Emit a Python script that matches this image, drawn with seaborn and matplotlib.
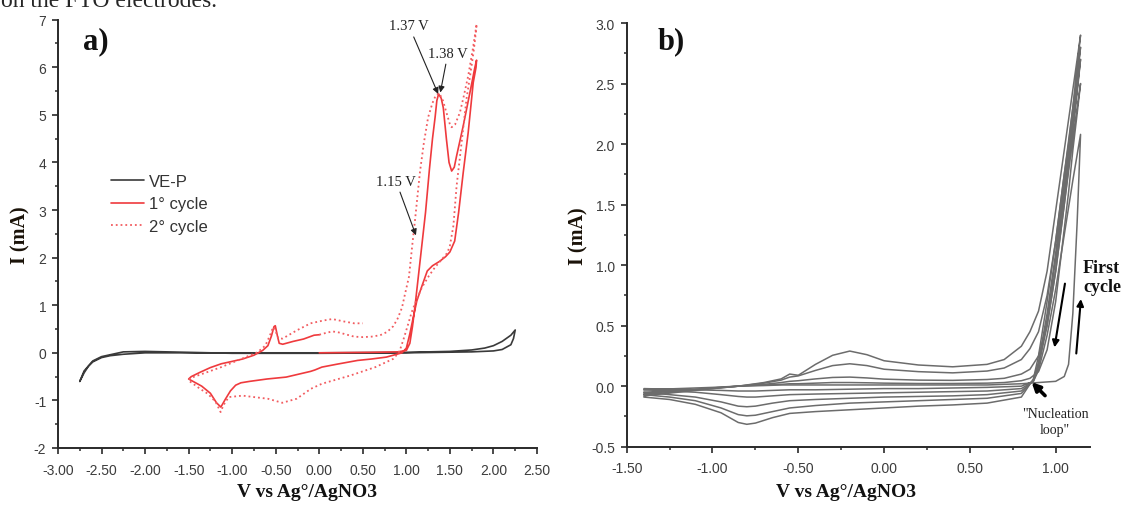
import numpy as np
import pandas as pd
import matplotlib
matplotlib.use("Agg")
import matplotlib.pyplot as plt
import seaborn as sns
from matplotlib.ticker import MultipleLocator, FormatStrFormatter

# ---------------- data: panel a) ----------------
ve_p_v = [-2.75, -2.7, -2.65, -2.6, -2.5, -2.4, -2.25, -2.0, -1.0, 0.0, 1.0, 1.5, 1.75, 1.9, 2.0, 2.1, 2.2, 2.25,
          2.23, 2.2, 2.1, 2.0, 1.75, 1.0, 0.0, -1.0, -2.0, -2.25, -2.5, -2.6, -2.7, -2.75]
ve_p_i = [-0.6, -0.42, -0.28, -0.19, -0.1, -0.06, -0.03, 0.0, 0.0, 0.0, 0.01, 0.03, 0.06, 0.1, 0.15, 0.24, 0.37, 0.48,
          0.3, 0.17, 0.07, 0.04, 0.02, 0.0, -0.01, -0.01, 0.03, 0.02, -0.08, -0.17, -0.38, -0.6]

cycle1_v = [0.0, 0.3, 0.6, 0.9, 1.0, 1.04, 1.07, 1.10, 1.16, 1.22, 1.265, 1.30, 1.33, 1.35, 1.37, 1.40, 1.424, 1.46,
            1.49, 1.52, 1.55, 1.577, 1.653, 1.73, 1.787, 1.806,
            1.80, 1.768, 1.71, 1.653, 1.60, 1.555, 1.50, 1.45, 1.38, 1.30, 1.24, 1.18, 1.12, 1.08, 1.04, 1.0, 0.95,
            0.89, 0.77, 0.6, 0.44, 0.2, 0.03, -0.05, -0.1, -0.38, -0.6, -0.8, -0.9, -0.96, -1.02, -1.08, -1.13,
            -1.18, -1.25, -1.35, -1.45, -1.5,
            -1.47, -1.37, -1.25, -1.125, -1.0, -0.88, -0.75, -0.65, -0.59, -0.55, -0.52, -0.505, -0.48, -0.46,
            -0.42, -0.3, -0.18, -0.06, 0.0]
cycle1_i = [0.0, 0.005, 0.01, 0.02, 0.05, 0.2, 0.55, 0.99, 1.97, 2.95, 3.86, 4.5, 4.95, 5.3, 5.44, 5.35, 5.15, 4.49,
            4.0, 3.82, 3.9, 4.14, 4.77, 5.47, 6.0, 6.15,
            6.0, 5.68, 4.63, 3.79, 2.95, 2.35, 2.12, 2.02, 1.92, 1.83, 1.72, 1.41, 1.09, 0.75, 0.4, 0.1, 0.0,
            -0.03, -0.09, -0.13, -0.16, -0.24, -0.30, -0.36, -0.39, -0.51, -0.55, -0.6, -0.63, -0.68, -0.8, -0.98,
            -1.14, -1.05, -0.85, -0.7, -0.6, -0.55,
            -0.5, -0.41, -0.31, -0.23, -0.18, -0.13, -0.05, 0.05, 0.15, 0.35, 0.55, 0.57, 0.35, 0.2,
            0.18, 0.24, 0.29, 0.37, 0.38]

cycle2_v = [0.0, 0.08, 0.15, 0.22, 0.28, 0.4, 0.5, 0.6, 0.7, 0.78, 0.85, 0.9, 0.95, 0.98, 1.03, 1.07, 1.10, 1.156,
            1.2, 1.25, 1.30, 1.34, 1.38, 1.42, 1.46, 1.50, 1.52, 1.56, 1.615, 1.66, 1.71, 1.76, 1.807,
            1.79, 1.77, 1.73, 1.69, 1.635, 1.577, 1.54, 1.5, 1.47, 1.41, 1.33, 1.26, 1.18, 1.12, 1.06, 1.02, 0.97,
            0.93, 0.91, 0.85, 0.645, 0.36, 0.03, -0.095, -0.26, -0.425, -0.59, -0.75, -0.88, -1.04, -1.1, -1.133,
            -1.19, -1.28, -1.37, -1.475, -1.5,
            -1.48, -1.37, -1.125, -0.95, -0.8, -0.71, -0.62, -0.57, -0.53, -0.5, -0.47, -0.42, -0.26, -0.1, 0.05,
            0.15, 0.28, 0.4, 0.5]
cycle2_i = [0.38, 0.42, 0.45, 0.43, 0.40, 0.34, 0.33, 0.34, 0.37, 0.44, 0.56, 0.72, 0.95, 1.2, 1.6, 2.3, 2.8, 3.8,
            4.4, 4.95, 5.25, 5.42, 5.45, 5.3, 5.05, 4.8, 4.74, 4.8, 5.05, 5.4, 5.82, 6.35, 6.91,
            6.6, 6.3, 5.8, 5.33, 4.43, 3.51, 2.67, 2.25, 2.1, 1.97, 1.8, 1.62, 1.38, 1.13, 0.85, 0.6, 0.3,
            0.08, 0.0, -0.126, -0.30, -0.475, -0.65, -0.755, -0.965, -1.05, -0.965, -0.93, -0.9, -0.93, -1.1, -1.245,
            -1.03, -0.86, -0.755, -0.615, -0.6,
            -0.53, -0.46, -0.3, -0.17, -0.056, 0.01, 0.15, 0.35, 0.54, 0.45, 0.3, 0.3, 0.47, 0.62, 0.68,
            0.71, 0.66, 0.62, 0.62]

# ---------------- data: panel b) ----------------
b_fwd_v = [-1.4, -1.2, -1.0, -0.85, -0.7, -0.6, -0.55, -0.5, -0.4, -0.3, -0.2, -0.1, 0.0, 0.2, 0.4, 0.6, 0.7,
           0.8, 0.85, 0.9, 0.95, 1.0, 1.05, 1.075, 1.1, 1.125, 1.145]
b_rev_v = [1.145, 1.1, 1.05, 1.0, 0.95, 0.9, 0.87, 0.8, 0.6, 0.4, 0.2, 0.0, -0.2, -0.4, -0.55, -0.65, -0.75,
           -0.8, -0.85, -0.95, -1.1, -1.25, -1.4]

b_c1_fwd = [-0.03, -0.02, -0.01, 0.0, 0.005, 0.01, 0.01, 0.01, 0.01, 0.01, 0.01, 0.01, 0.01, 0.01, 0.01, 0.01,
            0.015, 0.02, 0.025, 0.03, 0.035, 0.04, 0.08, 0.18, 0.6, 1.35, 2.08]
b_c2_fwd = [-0.05, -0.035, -0.015, 0.0, 0.01, 0.015, 0.02, 0.02, 0.025, 0.03, 0.03, 0.028, 0.025, 0.022, 0.022,
            0.025, 0.03, 0.045, 0.065, 0.12, 0.3, 0.7, 1.3, 1.6, 1.95, 2.25, 2.5]
b_c3_fwd = [-0.06, -0.04, -0.015, 0.0, 0.015, 0.03, 0.04, 0.045, 0.06, 0.072, 0.075, 0.068, 0.058, 0.05, 0.048,
            0.055, 0.065, 0.1, 0.14, 0.25, 0.5, 0.95, 1.5, 1.8, 2.1, 2.42, 2.7]
b_c4_fwd = [-0.07, -0.045, -0.02, 0.0, 0.025, 0.05, 0.075, 0.085, 0.13, 0.17, 0.185, 0.17, 0.14, 0.12, 0.11,
            0.125, 0.15, 0.22, 0.31, 0.45, 0.75, 1.2, 1.75, 2.0, 2.3, 2.58, 2.8]
b_c5_fwd = [-0.08, -0.05, -0.02, 0.0, 0.03, 0.06, 0.1, 0.09, 0.18, 0.255, 0.29, 0.26, 0.21, 0.175, 0.16, 0.18,
            0.22, 0.33, 0.45, 0.62, 0.95, 1.45, 1.95, 2.2, 2.45, 2.7, 2.9]

b_c1_rev = [2.08, 1.7, 1.25, 0.8, 0.42, 0.13, 0.04, 0.0, -0.01, -0.015, -0.02, -0.02, -0.025, -0.03, -0.03,
            -0.035, -0.04, -0.04, -0.04, -0.035, -0.03, -0.025, -0.02]
b_c2_rev = [2.5, 2.05, 1.5, 0.95, 0.5, 0.16, 0.04, -0.02, -0.04, -0.045, -0.05, -0.055, -0.06, -0.065, -0.07,
            -0.08, -0.09, -0.09, -0.085, -0.07, -0.05, -0.04, -0.03]
b_c3_rev = [2.7, 2.15, 1.6, 1.05, 0.55, 0.18, 0.045, -0.04, -0.07, -0.08, -0.085, -0.09, -0.1, -0.11, -0.12,
            -0.14, -0.165, -0.17, -0.165, -0.13, -0.09, -0.07, -0.05]
b_c4_rev = [2.8, 2.2, 1.65, 1.1, 0.6, 0.2, 0.05, -0.06, -0.1, -0.11, -0.12, -0.13, -0.14, -0.16, -0.18,
            -0.21, -0.24, -0.245, -0.235, -0.18, -0.12, -0.09, -0.07]
b_c5_rev = [2.9, 2.3, 1.75, 1.2, 0.7, 0.25, 0.06, -0.09, -0.14, -0.155, -0.165, -0.18, -0.195, -0.21, -0.225,
            -0.26, -0.305, -0.315, -0.30, -0.22, -0.15, -0.11, -0.09]

# ---------------- style ----------------
sns.set_style("ticks")
plt.rcParams["font.family"] = ["Liberation Sans", "DejaVu Sans"]
plt.rcParams["axes.unicode_minus"] = False
serif = ["Liberation Serif", "DejaVu Serif"]
tick_col = "#3c3c3c"
red = "#ef3a3d"

fig = plt.figure(figsize=(11.26, 5.06), dpi=100)
ax1 = fig.add_axes([58 / 1126, 1 - 449 / 506, 479 / 1126, 428.3 / 506])
ax2 = fig.add_axes([626.7 / 1126, 1 - 447.7 / 506, 463.3 / 1126, 423.7 / 506])

# panel a) curves
sns.lineplot(x=ve_p_v, y=ve_p_i, sort=False, estimator=None, ax=ax1, color="#3a3a3a", lw=1.2, label="VE-P")
sns.lineplot(x=cycle1_v, y=cycle1_i, sort=False, estimator=None, ax=ax1, color=red, lw=1.2, label="1° cycle")
sns.lineplot(x=cycle2_v, y=cycle2_i, sort=False, estimator=None, ax=ax1, color="#f25c60", lw=1.3,
             linestyle=":", label="2° cycle")

# panel b) curves
fwd_sets = [b_c1_fwd, b_c2_fwd, b_c3_fwd, b_c4_fwd, b_c5_fwd]
rev_sets = [b_c1_rev, b_c2_rev, b_c3_rev, b_c4_rev, b_c5_rev]
for fwd, rev in zip(fwd_sets, rev_sets):
    df = pd.DataFrame({"V": b_fwd_v + b_rev_v, "I": fwd + rev})
    sns.lineplot(data=df, x="V", y="I", sort=False, estimator=None, ax=ax2, color="#6c6c6c", lw=1.1)

# axes formatting
for ax in (ax1, ax2):
    sns.despine(ax=ax)
    for s in ("left", "bottom"):
        ax.spines[s].set_color("#2a2a2a")
        ax.spines[s].set_linewidth(1.4)
    ax.tick_params(which="major", direction="out", length=4.5, width=1.2, color="#2a2a2a",
                   labelcolor=tick_col, labelsize=10, pad=4)
    ax.tick_params(axis="x", which="major", pad=6)
    ax.tick_params(which="minor", direction="out", length=2.5, width=1.1, color="#2a2a2a")
    ax.set_xlabel("V vs Ag°/AgNO3", family=serif, fontweight="bold", fontsize=14, color="#111111")
    ax.set_ylabel("I (mA)", family=serif, fontweight="bold", fontsize=14.5, color="#1a1208")

ax1.set_xlim(-3.0, 2.5)
ax1.set_ylim(-2, 7)
ax1.xaxis.set_major_locator(MultipleLocator(0.5))
ax1.xaxis.set_minor_locator(MultipleLocator(0.25))
ax1.xaxis.set_major_formatter(FormatStrFormatter("%.2f"))
ax1.yaxis.set_major_locator(MultipleLocator(1))
ax1.yaxis.set_minor_locator(MultipleLocator(0.5))
ax1.yaxis.set_label_coords(-0.058, 0.5)
ax1.xaxis.set_label_coords(0.52, -0.082)

ax2.set_xlim(-1.5, 1.2)
ax2.set_ylim(-0.5, 3.0)
ax2.xaxis.set_major_locator(MultipleLocator(0.5))
ax2.xaxis.set_minor_locator(MultipleLocator(0.25))
ax2.xaxis.set_major_formatter(FormatStrFormatter("%.2f"))
ax2.yaxis.set_major_locator(MultipleLocator(0.5))
ax2.yaxis.set_minor_locator(MultipleLocator(0.25))
ax2.yaxis.set_major_formatter(FormatStrFormatter("%.1f"))
ax2.yaxis.set_label_coords(-0.0835, 0.5)
ax2.xaxis.set_label_coords(0.473, -0.086)

# legend
leg = ax1.legend(loc="upper left", bbox_to_anchor=(0.11, 0.64), frameon=False, fontsize=12,
                 handlelength=2.0, handletextpad=0.3, borderpad=0, borderaxespad=0, labelspacing=0.45)
for t in leg.get_texts():
    t.set_color("#333333")

# panel a) annotations
arrow_thin = dict(arrowstyle="-|>", color="#222222", lw=0.8, mutation_scale=9, shrinkA=1, shrinkB=0)
ax1.annotate("1.37 V", xy=(1.365, 5.44), xytext=(1.03, 6.87), ha="center", va="center",
             family=serif, fontsize=10.5, color="#222222", arrowprops=arrow_thin)
ax1.annotate("1.38 V", xy=(1.39, 5.47), xytext=(1.478, 6.30), ha="center", va="center",
             family=serif, fontsize=10.5, color="#222222", arrowprops=arrow_thin)
ax1.annotate("1.15 V", xy=(1.11, 2.47), xytext=(0.88, 3.61), ha="center", va="center",
             family=serif, fontsize=10.5, color="#222222", arrowprops=arrow_thin)

# panel b) annotations
ax2.annotate("", xy=(0.86, 0.033), xytext=(0.938, -0.078),
             arrowprops=dict(arrowstyle="-|>", color="black", lw=2.6, mutation_scale=12, shrinkA=0, shrinkB=0))
ax2.text(0.996, -0.29, '"Nucleation\nloop"', family=serif, fontsize=10, ha="center", va="center",
         linespacing=1.35, color="#222222")
ax2.text(1.16, 0.904, "First\ncycle", family=serif, fontsize=13, fontweight="bold", ha="left", va="center",
         linespacing=1.15, color="#111111")
arrow_mid = dict(arrowstyle="-|>", color="black", lw=1.5, mutation_scale=10, shrinkA=0, shrinkB=0)
ax2.annotate("", xy=(0.993, 0.32), xytext=(1.054, 0.847), arrowprops=arrow_mid)
ax2.annotate("", xy=(1.147, 0.72), xytext=(1.12, 0.27), arrowprops=arrow_mid)

# panel letters and the cut caption line above
fig.text(83 / 1126, 1 - 49 / 506, "a)", family=serif, fontweight="bold", fontsize=22, va="baseline", color="#111111")
fig.text(658 / 1126, 1 - 49 / 506, "b)", family=serif, fontweight="bold", fontsize=22, va="baseline", color="#111111")
fig.text(0.001, 1 - 7 / 506, "on the FTO electrodes.", family=serif, fontsize=17, va="baseline", ha="left")

fig.savefig("out.png", dpi=100)
